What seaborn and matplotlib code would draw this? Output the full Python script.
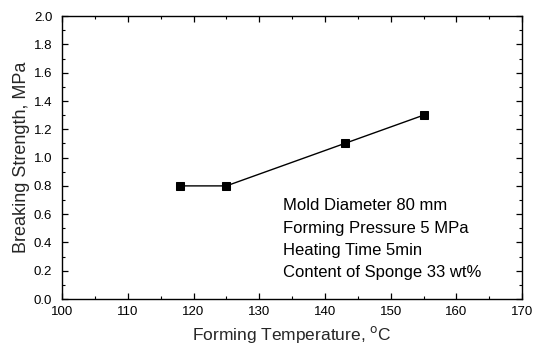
import matplotlib
matplotlib.use("Agg")
import matplotlib.pyplot as plt
import seaborn as sns
import pandas as pd
from matplotlib.ticker import MultipleLocator

temperature = [118, 125, 143, 155]
strength = [0.8, 0.8, 1.1, 1.3]
notes = ["Mold Diameter 80 mm", "Forming Pressure 5 MPa", "Heating Time 5min", "Content of Sponge 33 wt%"]

sns.set_theme(style="ticks")
plt.rcParams['font.family'] = ['Liberation Sans', 'DejaVu Sans']

df = pd.DataFrame({"t": temperature, "s": strength})
fig = plt.figure(figsize=(5.35, 3.51), dpi=100)
ax = fig.add_axes([0.116, 0.148, 0.86, 0.806])
sns.lineplot(data=df, x="t", y="s", ax=ax, color="black", linewidth=1.0,
             marker="s", markersize=6, markeredgecolor="black", markerfacecolor="black")

ax.set_xlim(100, 170)
ax.set_ylim(0, 2.0)
ax.xaxis.set_major_locator(MultipleLocator(10))
ax.xaxis.set_minor_locator(MultipleLocator(5))
ax.yaxis.set_major_locator(MultipleLocator(0.2))
ax.yaxis.set_minor_locator(MultipleLocator(0.1))
ax.yaxis.set_major_formatter(matplotlib.ticker.FormatStrFormatter('%.1f'))
ax.tick_params(which='both', direction='in', top=True, right=True, colors='black', labelsize=9.5)
ax.tick_params(which='major', length=4.5, width=0.9)
ax.tick_params(which='minor', length=2.5, width=0.8)
ax.tick_params(axis='y', which='major', pad=7)
ax.tick_params(axis='x', which='major', pad=5)
for s in ax.spines.values():
    s.set_color('black')
    s.set_linewidth(1.0)

ax.set_xlabel("Forming Temperature, $^\\mathrm{o}$C", fontsize=12.5, labelpad=4)
ax.set_ylabel("Breaking Strength, MPa", fontsize=13, labelpad=3)

ys = [0.329, 0.251, 0.173, 0.095]
for txt, y in zip(notes, ys):
    ax.text(0.48, y, txt, transform=ax.transAxes, fontsize=12, va='center', ha='left', color='black')

fig.savefig("out.png", dpi=100)
